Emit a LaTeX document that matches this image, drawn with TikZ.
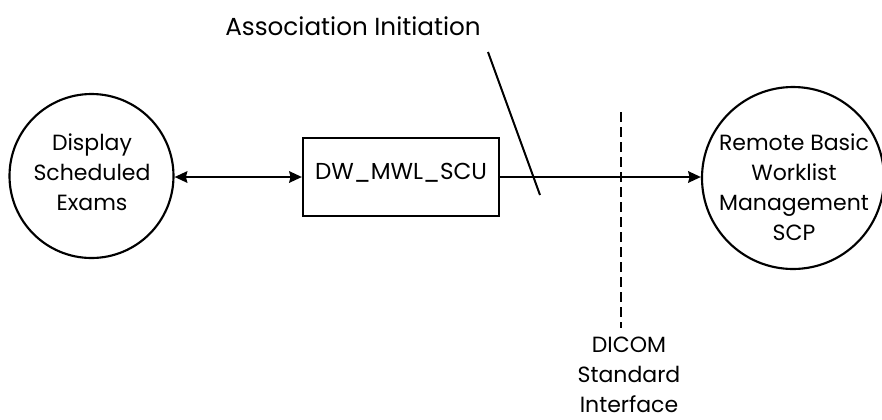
\documentclass[tikz,border=0pt]{standalone}
\usepackage{fontspec}
\setmainfont{Poppins}
\usetikzlibrary{arrows.meta}
\tikzset{
 lbl/.style={inner sep=0pt,align=center,font=\fontsize{16.5}{22.5}\selectfont},
 boxlbl/.style={inner sep=0pt,align=center,font=\fontsize{17.3}{22.5}\selectfont},
 biglbl/.style={inner sep=0pt,align=center,font=\fontsize{18.5}{22.5}\selectfont},
 shapeline/.style={draw,line width=1.6pt},
 circ/.style={circle,shapeline,inner sep=0pt},
 conn/.style={line width=2pt},
}
\begin{document}
\begin{tikzpicture}[x=0.75pt,y=-0.75pt]
\useasboundingbox (0,0) rectangle (882,419);
\node[circ,minimum size=123pt] (a) at (91.5,176) {};
\node[lbl] (at) at (92,172) {Display\\Scheduled\\Exams};
\node[shapeline,minimum width=147pt,minimum height=58.5pt,inner sep=0pt] (b) at (401,177) {};
\node[boxlbl] (bt) at (401,173) {DW\_MWL\_SCU};
\node[circ,minimum size=136.5pt] (c) at (793,178) {};
\node[lbl] (ct) at (794,187) {Remote Basic\\Worklist\\Management\\SCP};
\draw[conn,{Stealth[length=9.5pt,width=8.5pt,inset=1pt]}-{Stealth[length=9.5pt,width=8.5pt,inset=1pt]}] (a.east |- b.west) -- (b.west);
\draw[conn,-{Stealth[length=9.5pt,width=8.5pt,inset=1pt]}] (b.east) -- (c.west |- b.east);
\coordinate (l1) at (488,52);
\coordinate (l2) at (540,195);
\draw[line width=1.5pt] (l1) -- (l2);
\coordinate (d1) at (621,112);
\coordinate (d2) at (621,328);
\draw[line width=1.6pt,dash pattern=on 7.5pt off 3.75pt] (d1) -- (d2);
\node[biglbl] (t) at (353,26) {Association Initiation};
\node[lbl] (s) at (629,375) {DICOM\\Standard\\Interface};
\end{tikzpicture}
\end{document}
